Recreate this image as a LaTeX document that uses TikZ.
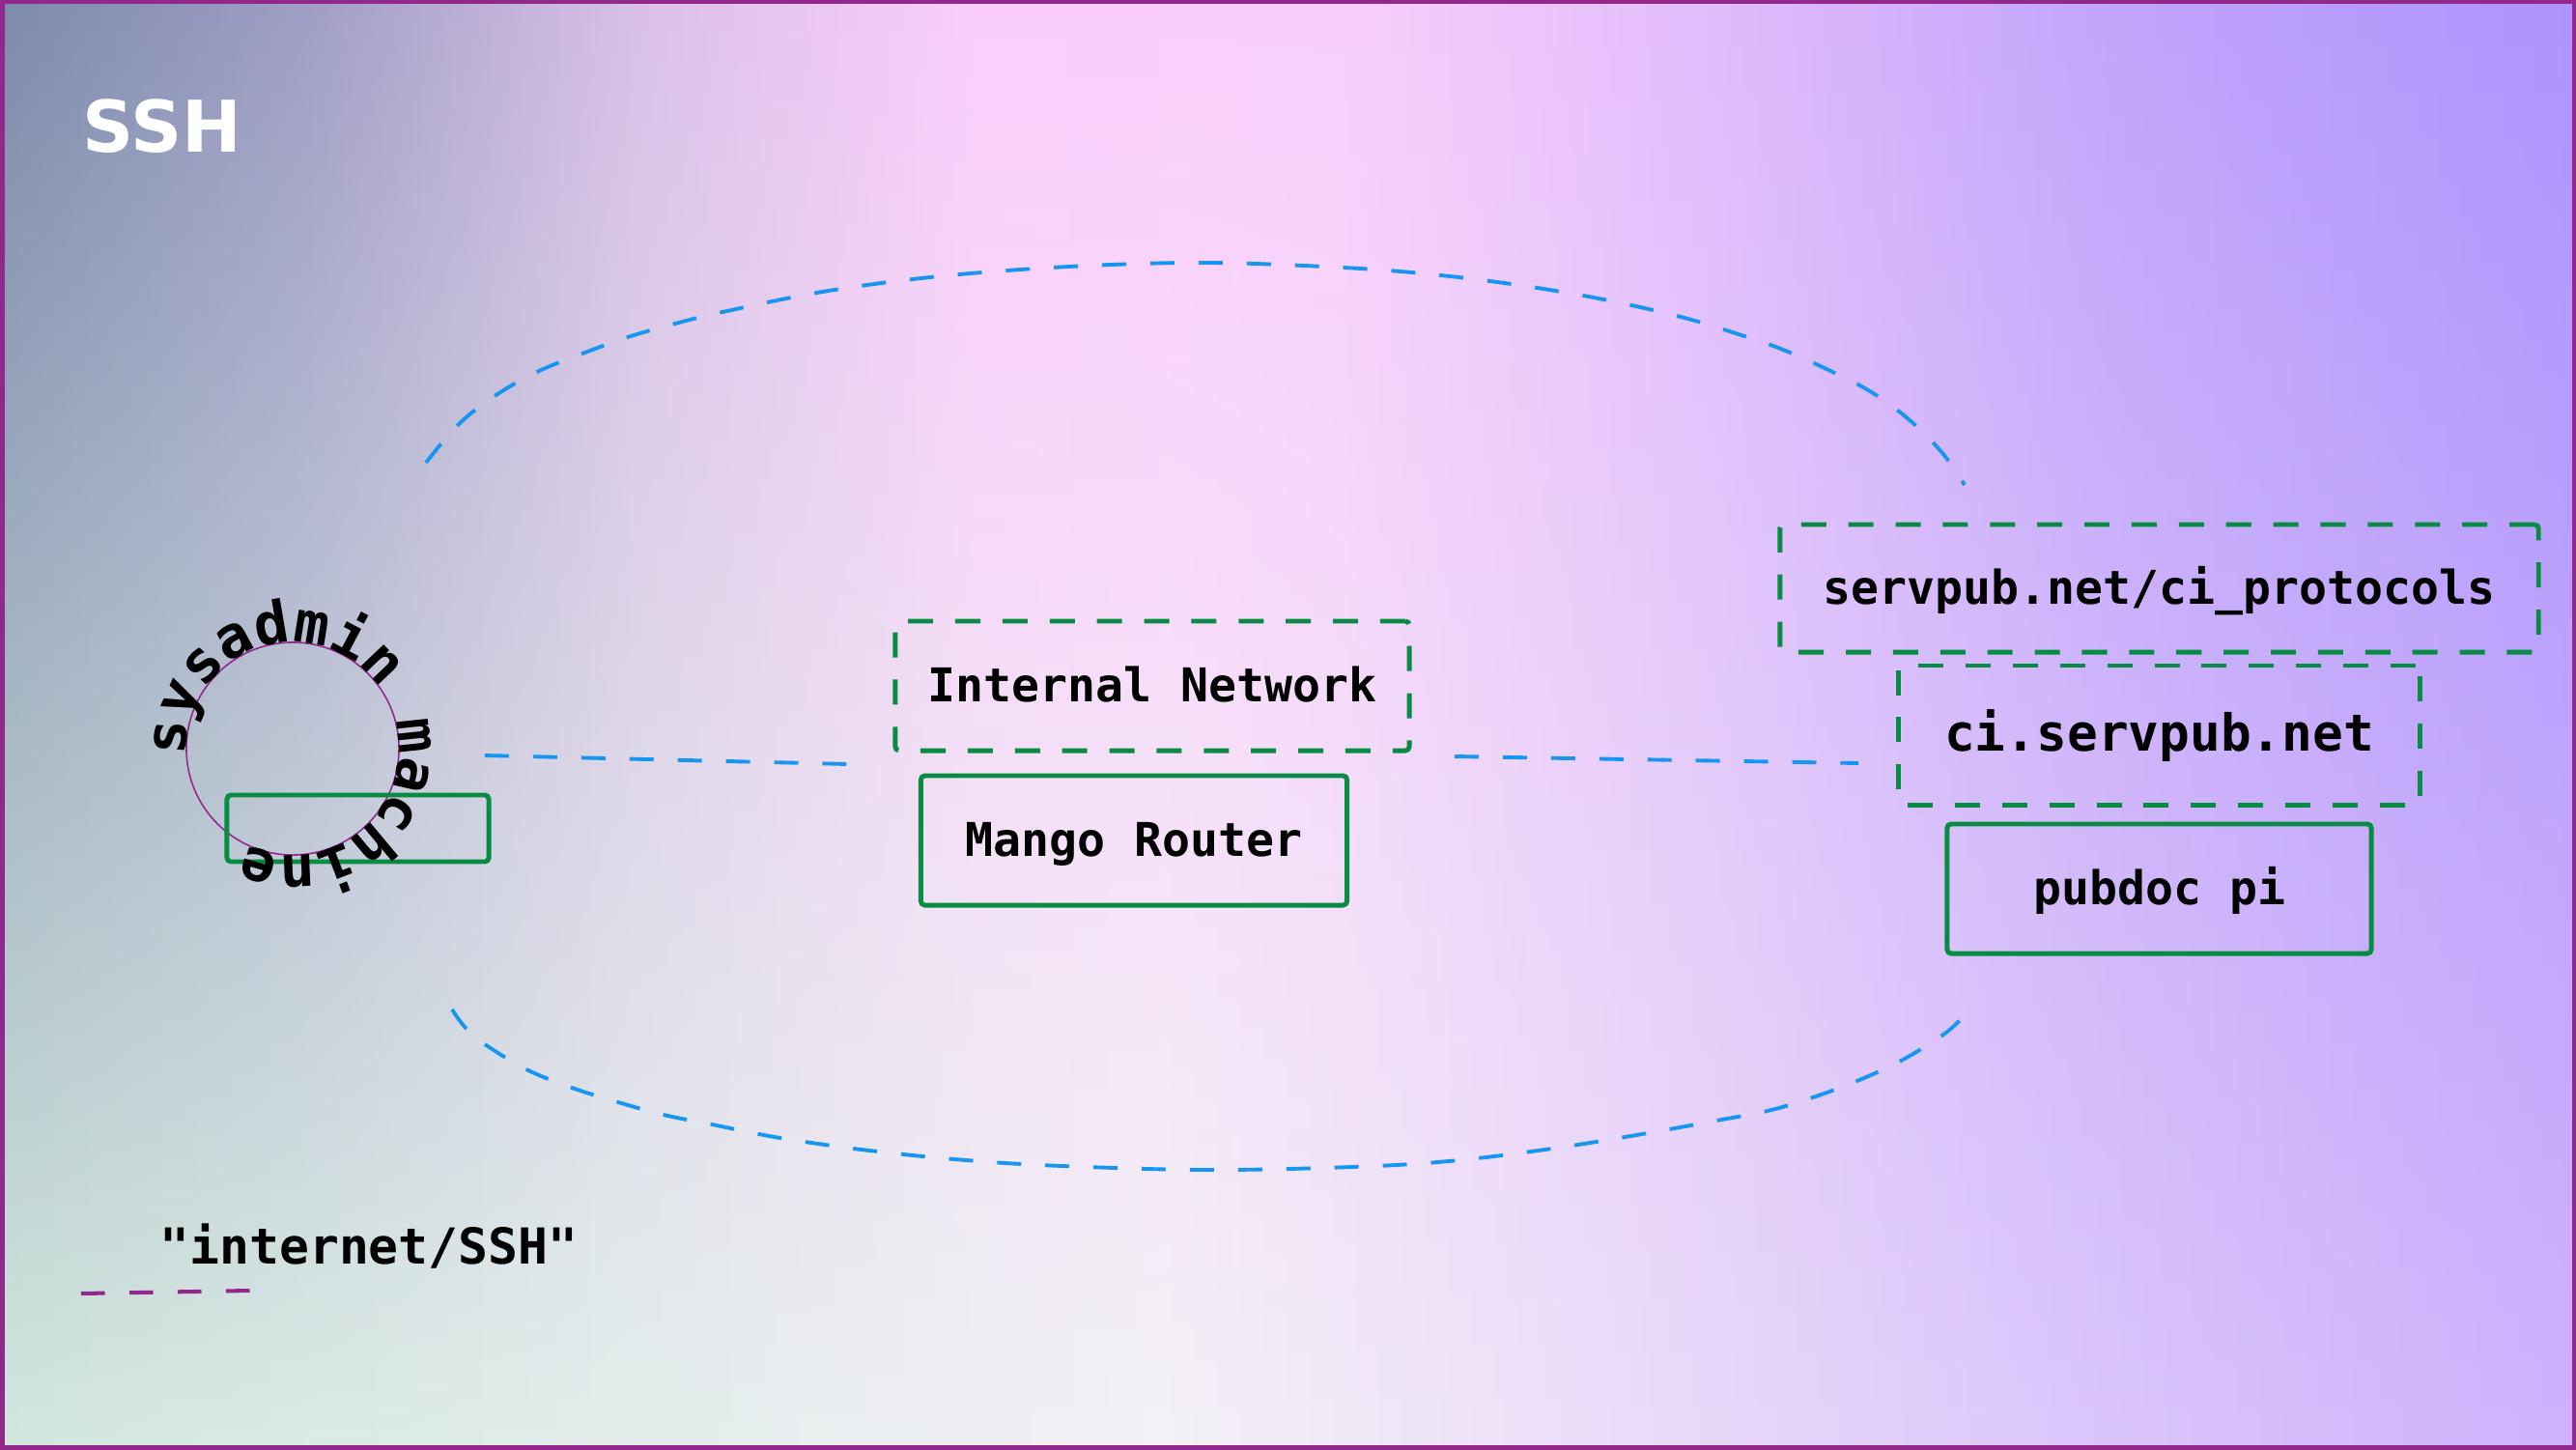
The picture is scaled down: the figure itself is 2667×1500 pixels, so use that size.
\documentclass[tikz,border=0pt]{standalone}
\usepackage{fontspec}
\usetikzlibrary{fadings,decorations.text}
\newfontfamily\dvmono{DejaVu Sans Mono}
\newfontfamily\dvsans{DejaVu Sans}
\newcommand\lblfont{\dvmono\bfseries\fontsize{13.7}{16}\selectfont}
\newcommand\bigfont{\dvmono\bfseries\fontsize{15}{18}\selectfont}
\newcommand\legfont{\dvmono\bfseries\fontsize{14.6}{17}\selectfont}
\newcommand\circfont{\dvmono\bfseries\fontsize{17}{20}\selectfont}
\newcommand\titlefont{\dvsans\bfseries\fontsize{21}{24}\selectfont}
\definecolor{sshblue}{RGB}{22,150,240}
\definecolor{sshgreen}{RGB}{8,140,68}
\definecolor{brdr}{RGB}{146,40,140}
\definecolor{tA}{RGB}{124,138,172}
\definecolor{tB}{RGB}{160,158,198}
\definecolor{tC}{RGB}{218,192,232}
\definecolor{tD}{RGB}{252,205,252}
\definecolor{tE}{RGB}{250,206,252}
\definecolor{tF}{RGB}{226,188,252}
\definecolor{tG}{RGB}{194,164,252}
\definecolor{tH}{RGB}{172,148,252}
\definecolor{bA}{RGB}{210,232,222}
\definecolor{bB}{RGB}{228,238,236}
\definecolor{bC}{RGB}{243,241,246}
\definecolor{bD}{RGB}{236,222,249}
\definecolor{bE}{RGB}{220,200,250}
\definecolor{bF}{RGB}{207,178,252}
\pgfdeclarehorizontalshading{bgtop}{100bp}{color(0bp)=(tA); color(25bp)=(tA); color(31bp)=(tB); color(37.5bp)=(tC); color(44bp)=(tD); color(51bp)=(tE); color(58bp)=(tF); color(66bp)=(tG); color(75bp)=(tH); color(100bp)=(tH)}
\pgfdeclarehorizontalshading{bgbot}{100bp}{color(0bp)=(bA); color(25bp)=(bA); color(37.5bp)=(bB); color(47.5bp)=(bC); color(56bp)=(bD); color(65bp)=(bE); color(75bp)=(bF); color(100bp)=(bF)}
\tikzfading[name=topfade, top color=transparent!0, bottom color=transparent!100]
\begin{document}
\begin{tikzpicture}[x=0.01cm, y=-0.01cm,
  gbox/.style={draw=sshgreen, line width=1.4pt, rounded corners=1.2pt, inner sep=0pt, font=\lblfont, text=black, text height=0.94em, text depth=0pt},
  gdash/.style={gbox, dash pattern=on 7.4pt off 6.5pt},
  sshline/.style={draw=sshblue, line width=1.1pt, dash pattern=on 7.1pt off 7.1pt},
  legline/.style={draw=brdr, line width=1.15pt, dash pattern=on 6.97pt off 7.25pt}]
\useasboundingbox (0,0) rectangle (2667,1500);
% background
\shade[shading=bgbot] (0,0) rectangle (2667,1500);
\shade[shading=bgtop, path fading=topfade] (0,0) rectangle (2667,1500);
\draw[draw=brdr, line width=0.05cm] (2,2) rectangle (2665,1498);

% title
\node[anchor=base west, inner sep=0pt, text=white, font=\titlefont] (ssh) at (85,158) {SSH};

% ellipse-like dashed arcs
\draw[sshline] plot[smooth, tension=0.6] coordinates {(441,479) (474,440) (512,410) (556,385) (603,366) (650,349) (699,335) (748,323) (846,303) (945,289) (1043,280) (1150,274) (1250,272) (1350,275) (1450,281) (1550,292) (1650,308) (1740,328) (1803,347) (1846,362) (1891,382) (1936,405) (1976,434) (2011,469) (2034,502)};
\draw[sshline] plot[smooth, tension=0.6] coordinates {(468,1045) (482,1064) (502,1081) (545,1107) (592,1126) (640,1141) (687,1154) (737,1164) (808,1178) (900,1191) (1000,1201) (1100,1207) (1250,1211) (1400,1208) (1500,1202) (1600,1190) (1700,1174) (1777,1160) (1830,1150) (1877,1136) (1925,1118) (1970,1097) (2012,1071) (2030,1055)};

% nodes
\node[gdash, minimum width=7.85cm, minimum height=1.32cm] (proto) at (2235.5,609) {servpub.net/ci\_protocols};
\node[gdash, minimum width=5.39cm, minimum height=1.44cm, font=\bigfont] (ciserv) at (2235.5,761) {ci.servpub.net};
\node[gbox, minimum width=4.39cm, minimum height=1.34cm] (pubdoc) at (2235.5,920) {pubdoc pi};
\node[gdash, minimum width=5.32cm, minimum height=1.34cm] (internal) at (1193,710) {Internal Network};
\node[gbox, minimum width=4.41cm, minimum height=1.34cm] (mango) at (1174,870) {Mango Router};
\node[circle, draw=brdr, line width=0.45pt, minimum size=2.2cm, inner sep=0pt] (machine) at (303,775) {};
\node[gbox, minimum width=2.71cm, minimum height=0.69cm] (sysbox) at (370.5,857.5) {};
\path[decorate, decoration={text along path, text={|\circfont|sysadmin machine}}]
  ([shift={(184:1.10cm)}]machine.center) arc[start angle=184, end angle=-160, radius=1.10cm];

% connectors
\coordinate (lA) at (502,782);
\coordinate (lB) at (878,791);
\draw[sshline] (lA) -- (lB);
\coordinate (rA) at (1506,783);
\coordinate (rB) at (1924,790);
\draw[sshline] (rA) -- (rB);

% legend
\node[inner sep=0pt, font=\legfont] (leg) at (382,1290) {"internet/SSH"};
\coordinate (gA) at (84,1339);
\coordinate (gB) at (259,1336);
\draw[legline] (gA) -- (gB);
\end{tikzpicture}
\end{document}
